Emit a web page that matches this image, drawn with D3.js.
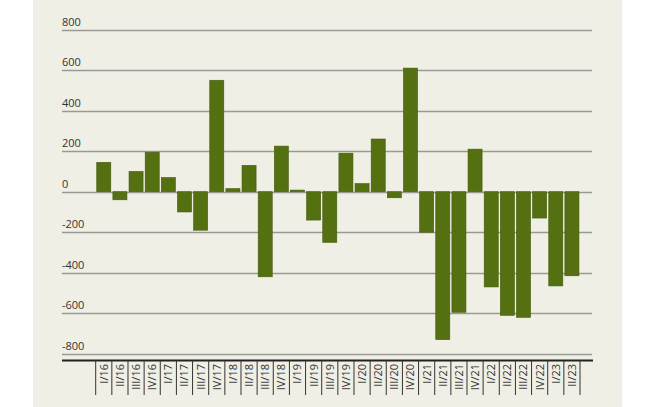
<!DOCTYPE html>
<html>
<head>
<meta charset="utf-8">
<script src="https://cdn.jsdelivr.net/npm/d3@7.9.0/dist/d3.min.js"></script>
<style>
  body { margin: 0; background: #fff; }
  svg { display: block; }
  text { font-family: "Open Sans", "DejaVu Sans", sans-serif; fill: #333; }
</style>
</head>
<body>
<svg id="chart" width="659" height="407"></svg>
<script>
// quarters and values
const quarters = [
  "I/16", "II/16", "III/16", "IV/16",
  "I/17", "II/17", "III/17", "IV/17",
  "I/18", "II/18", "III/18", "IV/18",
  "I/19", "II/19", "III/19", "IV/19",
  "I/20", "II/20", "III/20", "IV/20",
  "I/21", "II/21", "III/21", "IV/21",
  "I/22", "II/22", "III/22", "IV/22",
  "I/23", "II/23"
];
const values = [
  145, -40, 100, 195,
  70, -100, -190, 550,
  15, 130, -420, 225,
  8, -140, -250, 190,
  40, 260, -30, 610,
  -200, -730, -595, 210,
  -470, -610, -620, -130,
  -465, -415
];
const yTicks = [800, 600, 400, 200, 0, -200, -400, -600, -800];

const svg = d3.select("#chart");

// beige panel
svg.append("rect")
  .attr("x", 33).attr("y", 0)
  .attr("width", 589).attr("height", 407)
  .attr("fill", "#efefe5");

const gridLeft = 62, gridRight = 592;

const y = d3.scaleLinear().domain([-800, 800]).range([353.8, 29.6]);
const x = d3.scaleBand().domain(quarters).range([95.7, 580]).paddingInner(0.13).paddingOuter(0.065);

// gridlines + labels
const grid = svg.append("g");
yTicks.forEach(t => {
  grid.append("line")
    .attr("x1", gridLeft).attr("x2", gridRight)
    .attr("y1", Math.round(y(t)) + 0.5).attr("y2", Math.round(y(t)) + 0.5)
    .attr("stroke", "#9a9a95").attr("stroke-width", 1.3);
  grid.append("text")
    .attr("x", gridLeft).attr("y", y(t) - 4)
    .attr("font-size", 11)
    .text(t);
});

// bars
svg.append("g").selectAll("rect")
  .data(values)
  .join("rect")
  .attr("x", (d, i) => x(quarters[i]))
  .attr("width", x.bandwidth())
  .attr("y", d => y(Math.max(0, d)))
  .attr("height", d => Math.abs(y(d) - y(0)))
  .attr("fill", "#557010")
  .attr("stroke", "#435a0b")
  .attr("stroke-width", 0.6);

// bottom axis
const axisY = 360.5;
svg.append("line")
  .attr("x1", gridLeft).attr("x2", 593)
  .attr("y1", axisY).attr("y2", axisY)
  .attr("stroke", "#222").attr("stroke-width", 2.2);

const step = x.step();
const start = x.range()[0];
const tickPos = d3.range(quarters.length + 1).map(i => start + i * step);
svg.append("g").selectAll("line")
  .data(tickPos)
  .join("line")
  .attr("x1", d => d).attr("x2", d => d)
  .attr("y1", axisY).attr("y2", 395)
  .attr("stroke", "#333").attr("stroke-width", 1);

svg.append("g").selectAll("text")
  .data(quarters)
  .join("text")
  .attr("transform", d => `translate(${x(d) + x.bandwidth() / 2 + 4},364) rotate(-90)`)
  .attr("text-anchor", "end")
  .attr("font-size", 11)
  .text(d => d);
</script>
</body>
</html>
